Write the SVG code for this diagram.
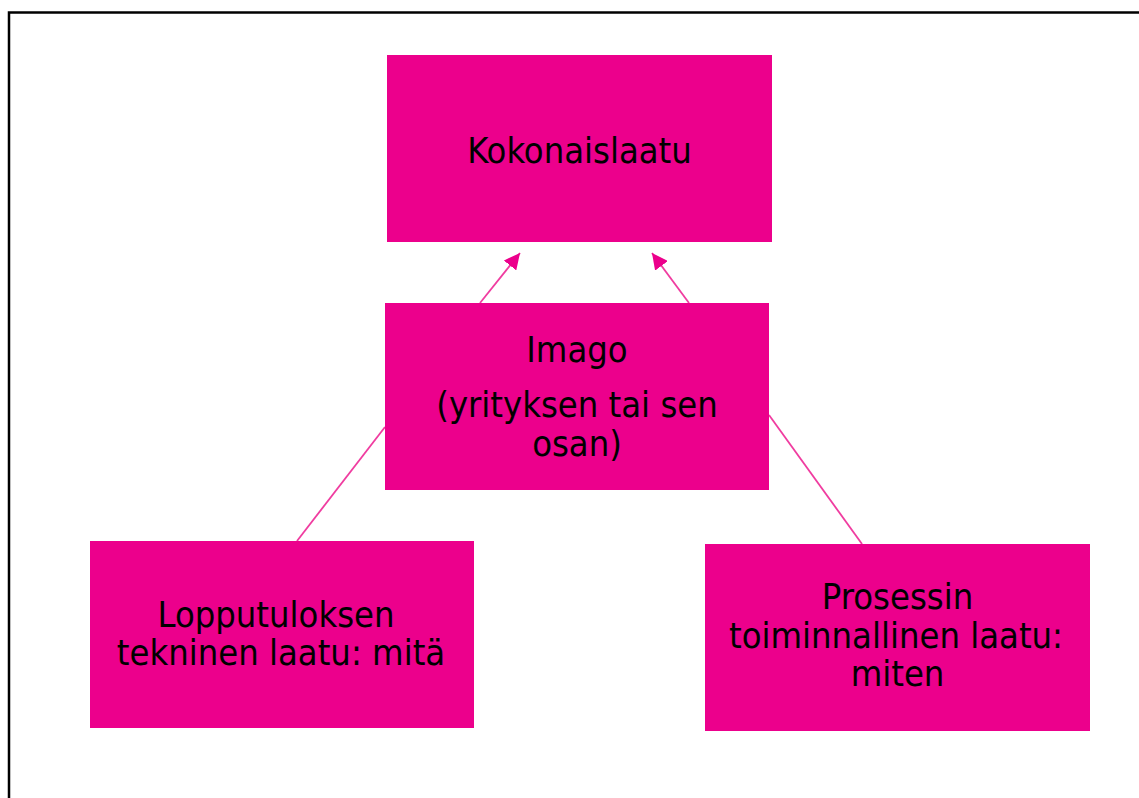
<svg xmlns="http://www.w3.org/2000/svg" width="1139" height="798" viewBox="0 0 1139 798">
<style>
.box{fill:#EC008C;}
.t{font-family:"DejaVu Sans Condensed","DejaVu Sans",sans-serif;font-stretch:condensed;font-size:36px;fill:#000;text-anchor:middle;}
.c{stroke:#F03CA0;stroke-width:1.8;fill:none;}
</style>
<defs>
<marker id="ah" markerUnits="userSpaceOnUse" markerWidth="17" markerHeight="16" refX="16" refY="8" orient="auto">
<path d="M0,0 L16,8 L0,16 Z" fill="#EC008C"/>
</marker>
</defs>
<rect x="0" y="0" width="1139" height="798" fill="#fff"/>
<path d="M9,798 V12.5 H1139" stroke="#000" stroke-width="2.5" fill="none"/>
<g id="connectors">
<line class="c" x1="480" y1="303" x2="520" y2="253" marker-end="url(#ah)"/>
<line class="c" x1="689" y1="303" x2="652" y2="253" marker-end="url(#ah)"/>
<line class="c" x1="297" y1="541" x2="385" y2="427"/>
<line class="c" x1="769" y1="415" x2="862" y2="544"/>
</g>
<g id="kokonaislaatu">
<rect class="box" x="387" y="55" width="385" height="187"/>
<text class="t" x="579.5" y="163">Kokonaislaatu</text>
</g>
<g id="imago">
<rect class="box" x="385" y="303" width="384" height="187"/>
<text class="t" x="577" y="362">Imago</text>
<text class="t" x="577" y="417">(yrityksen tai sen</text>
<text class="t" x="577" y="456">osan)</text>
</g>
<g id="lopputulos">
<rect class="box" x="90" y="541" width="384" height="187"/>
<text class="t" x="276" y="627">Lopputuloksen</text>
<text class="t" x="281" y="665">tekninen laatu: mitä</text>
</g>
<g id="prosessi">
<rect class="box" x="705" y="544" width="385" height="187"/>
<text class="t" x="897.5" y="609">Prosessin</text>
<text class="t" x="896" y="648">toiminnallinen laatu:</text>
<text class="t" x="897.5" y="686">miten</text>
</g>
</svg>
